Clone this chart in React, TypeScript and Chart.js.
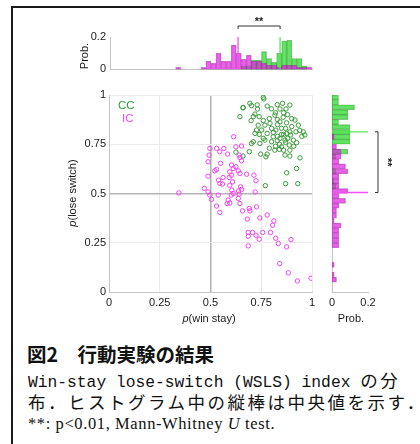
import React, { useEffect, useRef } from "react";
import { Chart, registerables } from "chart.js";

Chart.register(...registerables);

// ---------------- data ----------------
const BIN = 0.025;

// scatter: CC group
const ccWinStay = [0.76, 0.763, 0.694, 0.702, 0.661, 0.732, 0.779, 0.829, 0.855, 0.891, 0.872, 0.842, 0.645, 0.719, 0.711, 0.817, 0.829, 0.858, 0.842, 0.875, 0.916, 0.933, 0.735, 0.768, 0.793, 0.752, 0.727, 0.801, 0.822, 0.85, 0.891, 0.875, 0.895, 0.921, 0.957, 0.965, 0.779, 0.809, 0.842, 0.867, 0.908, 0.924, 0.719, 0.711, 0.768, 0.801, 0.829, 0.85, 0.839, 0.888, 0.891, 0.867, 0.891, 0.941, 0.817, 0.691, 0.747, 0.773, 0.779, 0.702, 0.875, 0.924, 0.77, 0.87, 0.93, 0.66, 0.625, 0.66, 0.743, 0.8, 0.82, 0.86, 0.88, 0.9, 0.79, 0.76, 0.74, 0.73, 0.83, 0.81, 0.86, 0.87, 0.9, 0.94, 0.95, 0.84, 0.82, 0.87, 0.79, 0.76, 0.74, 0.7, 0.86, 0.91, 0.88, 0.85, 0.83];
const ccLoseSwitch = [0.988, 0.98, 0.958, 0.946, 0.937, 0.929, 0.944, 0.951, 0.958, 0.949, 0.929, 0.929, 0.89, 0.903, 0.89, 0.898, 0.876, 0.887, 0.864, 0.859, 0.873, 0.847, 0.847, 0.847, 0.856, 0.822, 0.822, 0.831, 0.822, 0.831, 0.813, 0.805, 0.797, 0.813, 0.813, 0.797, 0.805, 0.788, 0.78, 0.771, 0.771, 0.758, 0.805, 0.763, 0.771, 0.763, 0.768, 0.737, 0.724, 0.746, 0.72, 0.695, 0.69, 0.681, 0.72, 0.712, 0.7, 0.686, 0.7, 0.754, 0.605, 0.627, 0.54, 0.55, 0.55, 0.935, 0.71, 0.69, 0.754, 0.93, 0.91, 0.91, 0.9, 0.88, 0.88, 0.87, 0.89, 0.95, 0.85, 0.81, 0.8, 0.83, 0.84, 0.82, 0.79, 0.75, 0.74, 0.76, 0.73, 0.78, 0.8, 0.87, 0.72, 0.74, 0.78, 0.8, 0.79];

// scatter: IC group
const icWinStay = [0.344, 0.614, 0.497, 0.53, 0.566, 0.493, 0.488, 0.546, 0.584, 0.625, 0.653, 0.641, 0.645, 0.653, 0.55, 0.53, 0.521, 0.604, 0.612, 0.595, 0.625, 0.637, 0.604, 0.592, 0.645, 0.678, 0.714, 0.724, 0.488, 0.54, 0.562, 0.546, 0.559, 0.609, 0.595, 0.648, 0.638, 0.605, 0.612, 0.602, 0.641, 0.653, 0.72, 0.469, 0.488, 0.497, 0.505, 0.538, 0.587, 0.595, 0.582, 0.637, 0.645, 0.53, 0.546, 0.658, 0.691, 0.694, 0.727, 0.681, 0.743, 0.779, 0.812, 0.806, 0.686, 0.707, 0.686, 0.724, 0.74, 0.757, 0.796, 0.821, 0.834, 0.875, 0.896, 0.686, 0.841, 0.883, 0.928, 0.995];
const icLoseSwitch = [0.503, 0.788, 0.729, 0.729, 0.729, 0.695, 0.661, 0.712, 0.7, 0.737, 0.741, 0.695, 0.683, 0.666, 0.653, 0.622, 0.615, 0.644, 0.627, 0.61, 0.636, 0.615, 0.593, 0.581, 0.602, 0.598, 0.593, 0.565, 0.588, 0.568, 0.581, 0.551, 0.548, 0.559, 0.542, 0.534, 0.513, 0.517, 0.5, 0.492, 0.497, 0.521, 0.508, 0.526, 0.508, 0.492, 0.47, 0.492, 0.466, 0.452, 0.449, 0.475, 0.449, 0.436, 0.404, 0.412, 0.424, 0.412, 0.432, 0.37, 0.376, 0.391, 0.361, 0.339, 0.302, 0.302, 0.283, 0.288, 0.268, 0.302, 0.302, 0.273, 0.246, 0.229, 0.266, 0.234, 0.144, 0.097, 0.056, 0.07];

// top histogram (p(win stay)), bin start -> probability
const topBinStartIC = [0.325, 0.45, 0.475, 0.5, 0.525, 0.55, 0.575, 0.6, 0.625, 0.65, 0.675, 0.7, 0.725, 0.75, 0.775, 0.8, 0.825, 0.85, 0.875, 0.9, 0.925, 0.95, 0.975];
const topProbIC = [0.0125, 0.0125, 0.05, 0.0375, 0.1, 0.05, 0.05, 0.15, 0.1, 0.0625, 0.0875, 0.05, 0.05, 0.0375, 0.025, 0.025, 0.0125, 0.025, 0.025, 0.025, 0.0125, 0.0125, 0.0125];
const topBinStartCC = [0.65, 0.675, 0.7, 0.725, 0.75, 0.775, 0.8, 0.825, 0.85, 0.875, 0.9, 0.925, 0.95];
const topProbCC = [0.022, 0.022, 0.056, 0.056, 0.11, 0.067, 0.044, 0.1, 0.175, 0.18, 0.067, 0.067, 0.022];

// right histogram (p(lose switch))
const rightBinStartCC = [0.975, 0.95, 0.925, 0.9, 0.875, 0.85, 0.825, 0.8, 0.775, 0.75, 0.7, 0.675, 0.6, 0.55, 0.525];
const rightProbCC = [0.036, 0.036, 0.125, 0.088, 0.088, 0.036, 0.1, 0.1, 0.1, 0.1, 0.088, 0.022, 0.022, 0.011, 0.022];
const rightBinStartIC = [0.775, 0.725, 0.7, 0.675, 0.65, 0.625, 0.6, 0.575, 0.55, 0.525, 0.5, 0.475, 0.45, 0.425, 0.4, 0.375, 0.35, 0.325, 0.3, 0.275, 0.25, 0.225, 0.125, 0.075, 0.05];
const rightProbIC = [0.0125, 0.025, 0.05, 0.05, 0.0375, 0.075, 0.0875, 0.0375, 0.0375, 0.0375, 0.0875, 0.0375, 0.075, 0.0375, 0.025, 0.025, 0.0125, 0.05, 0.0375, 0.0375, 0.0375, 0.0375, 0.0125, 0.0125, 0.025];

// medians
const medianWinStayIC = 0.634;
const medianWinStayCC = 0.842;
const medianLoseSwitchIC = 0.505;
const medianLoseSwitchCC = 0.813;

const probMax = 0.2;

// ---------------- styles ----------------
const FONT = "'Liberation Sans', Arial, Helvetica, sans-serif";
const TICK_COLOR = "#1a1a1a";
const AXIS_COLOR = "#c4c4c4";
const MAG_FILL = "rgba(225, 35, 225, 0.72)";
const MAG_EDGE = "rgba(120, 20, 120, 0.45)";
const GRN_FILL = "rgba(40, 215, 40, 0.72)";
const GRN_EDGE = "rgba(20, 110, 20, 0.45)";
const MAG_LINE = "#f050f0";
const GRN_LINE = "#50e850";
const PT_MAG = "#f044f0";
const PT_GRN = "#3a9a3a";

const tickFont = { family: FONT, size: 11 };
const fmt = (v: any) => String(Math.round(Number(v) * 100) / 100);

function bars(starts: number[], probs: number[], horizontal: boolean) {
  return starts.map((b, i) =>
    horizontal ? { x: probs[i], y: b + BIN / 2 } : { x: b + BIN / 2, y: probs[i] }
  );
}

function barDataset(data: any[], fill: string, edge: string, order: number) {
  return {
    type: "bar" as const,
    data,
    backgroundColor: fill,
    borderColor: edge,
    borderWidth: 0.6,
    borderSkipped: false,
    grouped: false,
    barPercentage: 1,
    categoryPercentage: 1,
    order,
  };
}

function lineDataset(data: any[], color: string) {
  return {
    type: "line" as const,
    data,
    borderColor: color,
    borderWidth: 1.3,
    pointRadius: 0,
    fill: false,
    order: 0,
  };
}

export default function App() {
  const topRef = useRef<HTMLCanvasElement>(null);
  const mainRef = useRef<HTMLCanvasElement>(null);
  const rightRef = useRef<HTMLCanvasElement>(null);

  useEffect(() => {
    const topBracket = {
      id: "topBracket",
      afterDraw(chart: any) {
        const { ctx, scales } = chart;
        const xa = scales.x.getPixelForValue(medianWinStayIC);
        const xb = scales.x.getPixelForValue(medianWinStayCC);
        const y = scales.y.getPixelForValue(probMax) - 11;
        ctx.save();
        ctx.strokeStyle = "#333";
        ctx.lineWidth = 1;
        ctx.beginPath();
        ctx.moveTo(xa, y + 3);
        ctx.lineTo(xa, y);
        ctx.lineTo(xb, y);
        ctx.lineTo(xb, y + 3);
        ctx.stroke();
        ctx.fillStyle = "#222";
        ctx.font = `bold 11px ${FONT}`;
        ctx.textAlign = "center";
        ctx.textBaseline = "alphabetic";
        ctx.fillText("**", (xa + xb) / 2, y - 1);
        ctx.restore();
      },
    };

    const rightBracket = {
      id: "rightBracket",
      afterDraw(chart: any) {
        const { ctx, scales } = chart;
        const ya = scales.y.getPixelForValue(medianLoseSwitchCC);
        const yb = scales.y.getPixelForValue(medianLoseSwitchIC);
        const x = scales.x.getPixelForValue(probMax) + 10;
        ctx.save();
        ctx.strokeStyle = "#333";
        ctx.lineWidth = 1;
        ctx.beginPath();
        ctx.moveTo(x - 3, ya);
        ctx.lineTo(x, ya);
        ctx.lineTo(x, yb);
        ctx.lineTo(x - 3, yb);
        ctx.stroke();
        ctx.translate(x + 4, (ya + yb) / 2);
        ctx.rotate(Math.PI / 2);
        ctx.fillStyle = "#222";
        ctx.font = `bold 11px ${FONT}`;
        ctx.textAlign = "center";
        ctx.textBaseline = "alphabetic";
        ctx.fillText("**", 0, -2);
        ctx.restore();
      },
    };

    const top = new Chart(topRef.current!, {
      type: "bar",
      data: {
        datasets: [
          lineDataset([{ x: medianWinStayIC, y: 0 }, { x: medianWinStayIC, y: probMax }], MAG_LINE),
          lineDataset([{ x: medianWinStayCC, y: 0 }, { x: medianWinStayCC, y: probMax }], GRN_LINE),
          barDataset(bars(topBinStartIC, topProbIC, false), MAG_FILL, MAG_EDGE, 1),
          barDataset(bars(topBinStartCC, topProbCC, false), GRN_FILL, GRN_EDGE, 2),
        ] as any,
      },
      options: {
        animation: false,
        responsive: false,
        maintainAspectRatio: false,
        layout: { padding: { top: 29, right: 18, left: 0, bottom: 0 } },
        plugins: { legend: { display: false }, tooltip: { enabled: false } },
        scales: {
          x: {
            type: "linear",
            offset: false,
            min: 0,
            max: 1,
            ticks: { display: false, stepSize: 0.25 },
            grid: { display: false, drawTicks: false },
            border: { color: AXIS_COLOR },
            afterFit: (s: any) => { s.height = 6; },
          },
          y: {
            type: "linear",
            min: 0,
            max: probMax,
            ticks: { stepSize: 0.2, font: tickFont, color: TICK_COLOR, padding: 4, callback: fmt },
            grid: { display: false, drawTicks: false },
            border: { color: AXIS_COLOR },
            afterFit: (s: any) => { s.width = 50; },
          },
        },
      } as any,
      plugins: [topBracket],
    });

    const gridColor = (c: any) => (c.tick && c.tick.value === 0.5 ? "#b4b4b4" : "#ebebeb");
    const gridWidth = (c: any) => (c.tick && c.tick.value === 0.5 ? 1.6 : 1);

    const main = new Chart(mainRef.current!, {
      type: "scatter",
      data: {
        datasets: [
          {
            label: "IC",
            data: icWinStay.map((x, i) => ({ x, y: icLoseSwitch[i] })),
            pointBorderColor: PT_MAG,
            pointBackgroundColor: "rgba(0,0,0,0)",
            pointRadius: 2.2,
            pointBorderWidth: 1,
          },
          {
            label: "CC",
            data: ccWinStay.map((x, i) => ({ x, y: ccLoseSwitch[i] })),
            pointBorderColor: PT_GRN,
            pointBackgroundColor: "rgba(0,0,0,0)",
            pointRadius: 2.2,
            pointBorderWidth: 1,
          },
        ],
      },
      options: {
        animation: false,
        responsive: false,
        maintainAspectRatio: false,
        layout: { padding: { top: 10, right: 18, left: 0, bottom: 0 } },
        plugins: { legend: { display: false }, tooltip: { enabled: false } },
        scales: {
          x: {
            type: "linear",
            min: 0,
            max: 1,
            ticks: { stepSize: 0.25, font: tickFont, color: TICK_COLOR, padding: 4, maxRotation: 0, autoSkip: false, callback: fmt },
            grid: { color: gridColor, lineWidth: gridWidth, drawTicks: false },
            border: { color: AXIS_COLOR },
            afterFit: (s: any) => { s.height = 38; },
          },
          y: {
            type: "linear",
            min: 0,
            max: 1,
            ticks: { stepSize: 0.25, font: tickFont, color: TICK_COLOR, padding: 3, autoSkip: false, callback: fmt },
            grid: { color: gridColor, lineWidth: gridWidth, drawTicks: false },
            border: { color: AXIS_COLOR },
            afterFit: (s: any) => { s.width = 49; },
          },
        },
      } as any,
    });

    const right = new Chart(rightRef.current!, {
      type: "bar",
      data: {
        datasets: [
          lineDataset([{ x: 0, y: medianLoseSwitchIC }, { x: probMax, y: medianLoseSwitchIC }], MAG_LINE),
          lineDataset([{ x: 0, y: medianLoseSwitchCC }, { x: probMax, y: medianLoseSwitchCC }], GRN_LINE),
          barDataset(bars(rightBinStartIC, rightProbIC, true), MAG_FILL, MAG_EDGE, 1),
          barDataset(bars(rightBinStartCC, rightProbCC, true), GRN_FILL, GRN_EDGE, 2),
        ] as any,
      },
      options: {
        indexAxis: "y",
        animation: false,
        responsive: false,
        maintainAspectRatio: false,
        layout: { padding: { top: 10, right: 52, left: 12, bottom: 0 } },
        plugins: { legend: { display: false }, tooltip: { enabled: false } },
        scales: {
          x: {
            type: "linear",
            position: "bottom",
            min: 0,
            max: probMax,
            ticks: { stepSize: 0.2, font: tickFont, color: TICK_COLOR, padding: 4, maxRotation: 0, callback: fmt },
            grid: { display: false, drawTicks: false },
            border: { color: AXIS_COLOR },
            afterFit: (s: any) => { s.height = 38; },
          },
          y: {
            type: "linear",
            offset: false,
            min: 0,
            max: 1,
            ticks: { display: false, stepSize: 0.25 },
            grid: { display: false, drawTicks: false },
            border: { color: AXIS_COLOR },
            afterFit: (s: any) => { s.width = 0; },
          },
        },
      } as any,
      plugins: [rightBracket],
    });

    return () => {
      top.destroy();
      main.destroy();
      right.destroy();
    };
  }, []);

  const abs = (s: React.CSSProperties): React.CSSProperties => ({ position: "absolute", ...s });
  const label: React.CSSProperties = { fontFamily: FONT, fontSize: 11, color: TICK_COLOR, whiteSpace: "nowrap", lineHeight: "13px" };
  const rot = (cx: number, cy: number): React.CSSProperties =>
    abs({ left: cx, top: cy, transform: "translate(-50%, -50%) rotate(-90deg)", ...label });
  const cen = (cx: number, cy: number): React.CSSProperties =>
    abs({ left: cx, top: cy, transform: "translate(-50%, -50%)", ...label });

  const mono: React.CSSProperties = {
    fontFamily: "'Liberation Mono', 'DejaVu Sans Mono', 'Noto Sans CJK JP', monospace",
    fontSize: 16.3,
    color: "#111",
    whiteSpace: "pre",
    lineHeight: "22px",
  };
  const serif: React.CSSProperties = {
    fontFamily: "'Liberation Serif', 'Noto Sans CJK JP', serif",
    fontSize: 16.5,
    letterSpacing: 0.6,
    color: "#111",
    whiteSpace: "pre",
    lineHeight: "22px",
  };
  const cjk: React.CSSProperties = { fontFamily: "'Noto Sans CJK JP', sans-serif", fontSize: 17.5, letterSpacing: 2.5 };

  return (
    <div style={{ position: "fixed", left: 0, top: 0, width: 420, height: 444, overflow: "hidden", background: "#fff" }}>
      <div style={abs({ left: 11, top: 6, width: 440, height: 470, border: "2px solid #1a1a1a", boxSizing: "border-box" })} />

      <canvas ref={topRef} width={270} height={72} style={abs({ left: 60, top: 8, width: 270, height: 72 })} />
      <canvas ref={mainRef} width={270} height={245} style={abs({ left: 60, top: 85, width: 270, height: 245 })} />
      <canvas ref={rightRef} width={100} height={245} style={abs({ left: 320, top: 85, width: 100, height: 245 })} />

      <div style={rot(84, 56)}>Prob.</div>
      <div style={rot(72, 193)}><i>p</i>(lose switch)</div>
      <div style={cen(209, 318)}><i>p</i>(win stay)</div>
      <div style={cen(351, 318)}>Prob.</div>

      <div style={abs({ left: 118, top: 99, fontFamily: FONT, fontSize: 11.5, color: "#2a9e3a", lineHeight: "13px" })}>CC</div>
      <div style={abs({ left: 122, top: 112, fontFamily: FONT, fontSize: 11.5, color: "#ee4aee", lineHeight: "13px" })}>IC</div>

      <div style={abs({ left: 27, top: 341, fontFamily: "'Noto Sans CJK JP', sans-serif", fontWeight: 700, fontSize: 19.5, lineHeight: "26px", color: "#111", whiteSpace: "pre" })}>
        図2　行動実験の結果
      </div>
      <div style={abs({ left: 28, top: 369, ...mono })}>
        Win-stay lose-switch (WSLS) index <span style={cjk}>の分</span>
      </div>
      <div style={abs({ left: 28, top: 391, ...mono })}>
        <span style={cjk}>布．ヒストグラム中の縦棒は中央値を示す．</span>
      </div>
      <div style={abs({ left: 28, top: 413, ...serif })}>
        **: p&lt;0.01, Mann-Whitney <i>U</i> test.
      </div>
    </div>
  );
}
